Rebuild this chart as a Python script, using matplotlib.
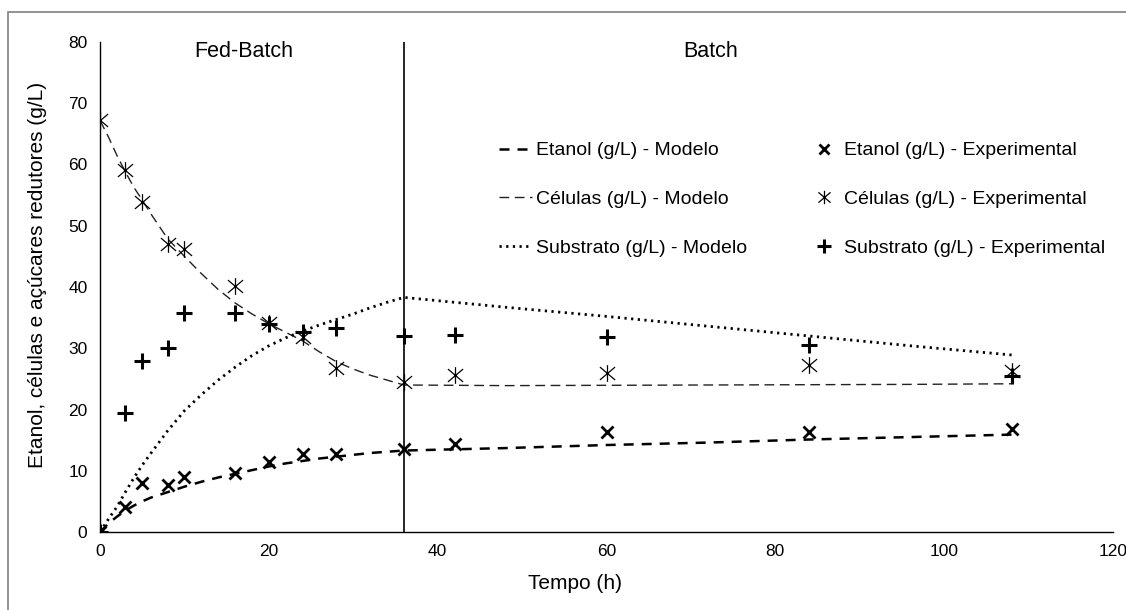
import matplotlib
matplotlib.use("Agg")
import matplotlib.pyplot as plt
from matplotlib.path import Path
from matplotlib.patches import Rectangle

plt.rcParams['font.family'] = ['Liberation Sans', 'DejaVu Sans']

# Experimental data
t_exp = [0, 3, 5, 8, 10, 16, 20, 24, 28, 36, 42, 60, 84, 108]
etanol_exp = [0, 4.1, 8.0, 7.6, 8.9, 9.6, 11.5, 12.7, 12.7, 13.5, 14.3, 16.4, 16.3, 16.8]
celulas_exp = [67.2, 59.1, 53.8, 47.1, 46.2, 40.1, 34.1, 31.9, 26.7, 24.5, 25.7, 26.0, 27.3, 26.3]
substrato_exp = [0, 19.4, 27.9, 30.0, 35.7, 35.7, 33.9, 32.7, 33.3, 32.0, 32.2, 31.9, 30.5, 25.5]

# Model curves
t_mod = [0, 1, 2, 3, 4, 5, 6, 8, 10, 12, 14, 16, 18, 20, 22, 24, 26, 28, 30, 32, 34, 36,
         48, 60, 72, 84, 96, 108]
etanol_mod = [0, 1.4, 2.5, 3.5, 4.3, 5.0, 5.6, 6.5, 7.4, 8.2, 8.9, 9.5, 10.1, 10.7, 11.2, 11.6,
              12.0, 12.3, 12.6, 12.9, 13.1, 13.3, 13.7, 14.2, 14.6, 15.1, 15.5, 15.9]
celulas_mod = [67.2, 64.5, 61.5, 58.8, 56.3, 54.2, 52.0, 47.9, 45.0, 42.2, 39.6, 37.4, 35.6,
               34.0, 32.6, 31.2, 29.4, 27.8, 26.6, 25.6, 24.8, 24.0, 23.9, 23.95, 24.0, 24.05,
               24.1, 24.2]
substrato_mod = [0, 2.1, 4.1, 6.5, 8.8, 10.9, 12.8, 16.5, 19.8, 22.4, 24.8, 26.9, 28.8, 30.4,
                 31.7, 32.8, 33.8, 34.7, 35.6, 36.6, 37.5, 38.3, 36.7, 35.2, 33.6, 32.0, 30.4, 28.9]

t_switch = 36
xticks = [0, 20, 40, 60, 80, 100, 120]
yticks = [0, 10, 20, 30, 40, 50, 60, 70, 80]

fig = plt.figure(figsize=(11.26, 6.10), dpi=100)
ax = fig.add_axes([100/1126, 1 - 532/610, 1013/1126, 490/610])

# asterisk marker (x + vertical bar)
ast = Path([(-1, -0.85), (1, 0.85), (-1, 0.85), (1, -0.85), (0, -1.1), (0, 1.1)],
           [Path.MOVETO, Path.LINETO, Path.MOVETO, Path.LINETO, Path.MOVETO, Path.LINETO])

l_et, = ax.plot(t_mod, etanol_mod, color='black', lw=1.8, dashes=(4, 3.2))
l_ce, = ax.plot(t_mod, celulas_mod, color='#222222', lw=1.0, dashes=(7, 4))
l_su, = ax.plot(t_mod, substrato_mod, color='black', lw=2.0, dashes=(0.8, 1.6))

m_et, = ax.plot(t_exp, etanol_exp, ls='none', marker='x', ms=9, mew=2.0, color='black')
m_ce, = ax.plot(t_exp, celulas_exp, ls='none', marker=ast, ms=12, mew=0.9, color='black')
m_su, = ax.plot(t_exp, substrato_exp, ls='none', marker='+', ms=12, mew=2.2, color='black')

ax.plot([t_switch, t_switch], [0, 80], color='black', lw=1.2)

ax.set_xlim(0, 120)
ax.set_ylim(0, 80)
ax.set_xticks(xticks)
ax.set_yticks(yticks)
ax.tick_params(length=0, labelsize=12.5, pad=9)
for s in ['top', 'right']:
    ax.spines[s].set_visible(False)
ax.spines['left'].set_linewidth(1.0)
ax.spines['bottom'].set_linewidth(1.0)

ax.set_xlabel('Tempo (h)', fontsize=15)
ax.xaxis.set_label_coords((575 - 100) / 1013, -(574 - 532) / 490)
ax.set_ylabel('Etanol, células e açúcares redutores (g/L)', fontsize=15)
ax.yaxis.set_label_coords(-(100 - 47) / 1013, (532 - 275) / 490)

ax.text(17, 78.4, 'Fed-Batch', fontsize=15.5, ha='center', va='center')
ax.text(72.3, 78.4, 'Batch', fontsize=15.5, ha='center', va='center')

handles = [l_et, l_ce, l_su, m_et, m_ce, m_su]
labels = ['Etanol (g/L) - Modelo', 'Células (g/L) - Modelo', 'Substrato (g/L) - Modelo',
          'Etanol (g/L) - Experimental', 'Células (g/L) - Experimental',
          'Substrato (g/L) - Experimental']
leg = ax.legend(handles, labels, ncol=2, frameon=False, fontsize=14,
                loc='upper left', bbox_to_anchor=((491 - 100) / 1013, (532 - 134) / 490),
                handlelength=1.7, handletextpad=0.2, labelspacing=1.6, columnspacing=3.1,
                markerscale=0.8, borderaxespad=0)

fig.patches.append(Rectangle((8/1126, -0.1), 1.2, 1 - 12/610 + 0.1, transform=fig.transFigure,
                             fill=False, edgecolor='#7f7f7f', lw=1.2))

fig.savefig('out.png', dpi=100)
